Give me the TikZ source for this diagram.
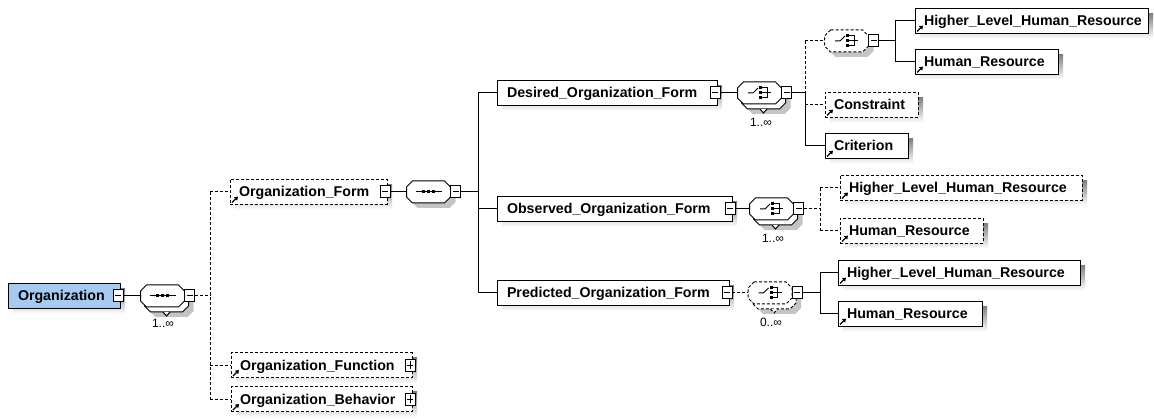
\documentclass[tikz,border=0pt]{standalone}
\usepackage{fontspec}
\newfontfamily\lsans{Liberation Sans}
\usetikzlibrary{arrows.meta}

\definecolor{rootfill}{RGB}{166,202,240}
\definecolor{shade}{RGB}{196,196,196}

\pgfdeclarelayer{paper}
\pgfdeclarelayer{shadowlayer}
\pgfsetlayers{paper,shadowlayer,main}

\tikzset{
  every node/.style={inner sep=0pt, outer sep=0pt},
  box/.style={draw, fill=white, line width=1pt, minimum height=25pt, text width=#1,
    align=left, anchor=west, text height=13pt, text depth=3pt,
    font=\lsans\bfseries\fontsize{14.2}{16}\selectfont},
  opt/.style={dash pattern=on 3pt off 2pt},
  comp/.style={minimum width=44pt, minimum height=22pt},
  btn/.style={draw, fill=white, line width=1pt, minimum width=10pt, minimum height=12pt,
    path picture={\draw[line width=1pt] ([xshift=2pt]path picture bounding box.west)
      -- ([xshift=-2pt]path picture bounding box.east);}},
  plusbtn/.style={btn, path picture={
      \draw[line width=1pt] ([xshift=2pt]path picture bounding box.west)
        -- ([xshift=-2pt]path picture bounding box.east);
      \draw[line width=1pt] ([yshift=2pt]path picture bounding box.south)
        -- ([yshift=-2pt]path picture bounding box.north);}},
  link/.style={line width=1pt},
  occ/.style={font=\lsans\fontsize{12}{14}\selectfont},
}

% small arrow marking a referenced element
\newcommand\refmark[1]{%
  \draw[line width=1.2pt, -{Triangle[length=3.5pt,width=4.5pt]}]
    ([shift={(2,-2)}]#1.south west) -- ++(6,-6);}

% octagon round a compositor node: name, dx, dy, path options
\newcommand\octo[4]{%
  \path[#4] ([shift={(#2+6,#3)}]#1.north west) -- ([shift={(#2-6,#3)}]#1.north east)
    -- ([shift={(#2,#3+6)}]#1.north east) -- ([shift={(#2,#3-6)}]#1.south east)
    -- ([shift={(#2-6,#3)}]#1.south east) -- ([shift={(#2+6,#3)}]#1.south west)
    -- ([shift={(#2,#3-6)}]#1.south west) -- ([shift={(#2,#3+6)}]#1.north west) -- cycle;}

% sequence compositor symbol
\newcommand\seqicon[1]{%
  \begin{scope}[shift={(#1.center)}]
    \draw[line width=1pt] (-13,0) -- (13,0);
    \fill (-6.5,-1.5) rectangle +(3,3);
    \fill (-1.5,-1.5) rectangle +(3,3);
    \fill (3.5,-1.5) rectangle +(3,3);
  \end{scope}}

% choice compositor symbol
\newcommand\choiceicon[1]{%
  \begin{scope}[shift={(#1.center)}, xshift=1.5pt]
    \draw[line width=1pt] (-13,0) -- (-8,0) -- (-3,-5);
    \fill (-2,-6.5) rectangle +(3,3);
    \fill (-2,-1.5) rectangle +(3,3);
    \fill (-2,3.5) rectangle +(3,3);
    \draw[line width=1pt] (1,-5) -- (6,-5) -- (6,5) -- (1,5);
    \draw[line width=1pt] (1,0) -- (10,0);
  \end{scope}}

% rear copy of a compositor that may repeat: name, position, extra options
\newcommand\stackback[3]{%
  \node[comp] (#1-bk) at ([shift={(4,5)}]#2) {};
  \octo{#1-bk}{5}{5}{fill=shade}
  \octo{#1-bk}{0}{0}{draw, line width=1pt, fill=white, #3}
  \draw[line width=1pt, fill=white, #3] ([xshift=-3.5pt]#1-bk.south)
    -- ([yshift=-4pt]#1-bk.south) -- ([xshift=3.5pt]#1-bk.south);}

\begin{document}
\begin{tikzpicture}[x=1pt,y=-1pt]
\begin{pgfonlayer}{paper}
\fill[white] (0,0) rectangle (1154,419);
\end{pgfonlayer}
\useasboundingbox (0,0) rectangle (1154,419);

% ---------- root element ----------
\node[box=112pt, fill=rootfill] (org) at (8,296) {\hspace*{10pt}Organization};
\node[btn] (org-b) at ([xshift=-2pt]org.east) {};

\coordinate (s1pos) at (162.5,296);
\stackback{s1}{s1pos}{}
\node[comp] (s1) at (s1pos) {};
\octo{s1}{0}{0}{draw, line width=1pt, fill=white}
\seqicon{s1}
\node[btn, anchor=west] (s1-b) at (s1.east) {};
\node[occ] (s1-o) at (163,323) {1..∞};

\coordinate (j1) at (210,296);

% ---------- first level children ----------
\node[box=157pt, opt] (of) at (230,192) {\hspace*{9pt}Organization\_Form};
\node[btn] (of-b) at ([xshift=-2pt]of.east) {};
\refmark{of}
\node[box=181pt, opt] (ofn) at (231,365.5) {\hspace*{9pt}Organization\_Function};
\node[plusbtn] (ofn-b) at ([xshift=-2pt]ofn.east) {};
\refmark{ofn}
\node[box=181pt, opt] (obh) at (231,399.5) {\hspace*{9pt}Organization\_Behavior};
\node[plusbtn] (obh-b) at ([xshift=-2pt]obh.east) {};
\refmark{obh}

\draw[link] (org-b.east) -- (s1.west);
\draw[link, opt] (s1-b.east) -- (j1);
\draw[link, opt] (of.west -| j1) -- (obh.west -| j1);
\draw[link, opt] (of.west -| j1) -- (of.west);
\draw[link, opt] (ofn.west -| j1) -- (ofn.west);
\draw[link, opt] (obh.west -| j1) -- (obh.west);

% ---------- Organization_Form content ----------
\node[comp] (s2) at (428.5,192) {};
\octo{s2}{5}{5}{fill=shade}
\octo{s2}{0}{0}{draw, line width=1pt, fill=white}
\seqicon{s2}
\node[btn, anchor=west] (s2-b) at (s2.east) {};
\coordinate (j2) at (478,192);
\draw[link] (of-b.east) -- (s2.west);
\draw[link] (s2-b.east) -- (j2);

\node[box=220pt] (des) at (497,93) {\hspace*{10pt}Desired\_Organization\_Form};
\node[btn] (des-b) at ([xshift=-2pt]des.east) {};
\node[box=235pt] (obs) at (497,209) {\hspace*{10pt}Observed\_Organization\_Form};
\node[btn] (obs-b) at ([xshift=-2pt]obs.east) {};
\node[box=232pt] (pre) at (497,293) {\hspace*{10pt}Predicted\_Organization\_Form};
\node[btn] (pre-b) at ([xshift=-2pt]pre.east) {};

\draw[link] (des.west -| j2) -- (pre.west -| j2);
\draw[link] (des.west -| j2) -- (des.west);
\draw[link] (obs.west -| j2) -- (obs.west);
\draw[link] (pre.west -| j2) -- (pre.west);

% ---------- Desired_Organization_Form content ----------
\coordinate (c1pos) at (759.5,93);
\stackback{c1}{c1pos}{}
\node[comp] (c1) at (c1pos) {};
\octo{c1}{0}{0}{draw, line width=1pt, fill=white}
\choiceicon{c1}
\node[btn, anchor=west] (c1-b) at (c1.east) {};
\node[occ] (c1-o) at (761,122) {1..∞};
\coordinate (j3) at (805,93);
\draw[link] (des-b.east) -- (c1.west);
\draw[link] (c1-b.east) -- (j3);

\node[comp] (c2) at (846.5,41) {};
\octo{c2}{5}{5}{fill=shade}
\octo{c2}{0}{0}{draw, line width=1pt, fill=white, opt}
\choiceicon{c2}
\node[btn, anchor=west] (c2-b) at (c2.east) {};
\coordinate (j4) at (895,41);

\node[box=93pt, opt] (con) at (825,105) {\hspace*{9pt}Constraint};
\refmark{con}
\node[box=83pt] (cri) at (825,146) {\hspace*{9pt}Criterion};
\refmark{cri}

\draw[link, opt] (c2.west -| j3) -- (j3);
\draw[link] (j3) -- (cri.west -| j3);
\draw[link, opt] (c2.west -| j3) -- (c2.west);
\draw[link, opt] (con.west -| j3) -- (con.west);
\draw[link] (cri.west -| j3) -- (cri.west);

\node[box=233pt] (hl1) at (915,21) {\hspace*{9pt}Higher\_Level\_Human\_Resource};
\refmark{hl1}
\node[box=143pt] (hr1) at (915,62) {\hspace*{9pt}Human\_Resource};
\refmark{hr1}
\draw[link] (c2-b.east) -- (j4);
\draw[link] (hl1.west -| j4) -- (hr1.west -| j4);
\draw[link] (hl1.west -| j4) -- (hl1.west);
\draw[link] (hr1.west -| j4) -- (hr1.west);

% ---------- Observed_Organization_Form content ----------
\coordinate (c3pos) at (771.5,209);
\stackback{c3}{c3pos}{}
\node[comp] (c3) at (c3pos) {};
\octo{c3}{0}{0}{draw, line width=1pt, fill=white}
\choiceicon{c3}
\node[btn, anchor=west] (c3-b) at (c3.east) {};
\node[occ] (c3-o) at (773,238) {1..∞};
\coordinate (j5) at (820,209);
\draw[link] (obs-b.east) -- (c3.west);
\draw[link, opt] (c3-b.east) -- (j5);

\node[box=242pt, opt] (hl2) at (840,188) {\hspace*{9pt}Higher\_Level\_Human\_Resource};
\refmark{hl2}
\node[box=143pt, opt] (hr2) at (840,231) {\hspace*{9pt}Human\_Resource};
\refmark{hr2}
\draw[link, opt] (hl2.west -| j5) -- (hr2.west -| j5);
\draw[link, opt] (hl2.west -| j5) -- (hl2.west);
\draw[link, opt] (hr2.west -| j5) -- (hr2.west);

% ---------- Predicted_Organization_Form content ----------
\coordinate (c4pos) at (770,293);
\stackback{c4}{c4pos}{opt}
\node[comp] (c4) at (c4pos) {};
\octo{c4}{0}{0}{draw, line width=1pt, fill=white, opt}
\choiceicon{c4}
\node[btn, anchor=west] (c4-b) at (c4.east) {};
\node[occ] (c4-o) at (771,322) {0..∞};
\coordinate (j6) at (820,293);
\draw[link, opt] (pre-b.east) -- (c4.west);
\draw[link] (c4-b.east) -- (j6);

\node[box=242pt] (hl3) at (838,273) {\hspace*{9pt}Higher\_Level\_Human\_Resource};
\refmark{hl3}
\node[box=144pt] (hr3) at (838,314) {\hspace*{9pt}Human\_Resource};
\refmark{hr3}
\draw[link] (hl3.west -| j6) -- (hr3.west -| j6);
\draw[link] (hl3.west -| j6) -- (hl3.west);
\draw[link] (hr3.west -| j6) -- (hr3.west);

% ---------- shadows under the element boxes ----------
\begin{pgfonlayer}{shadowlayer}
\foreach \n in {org,of,ofn,obh,des,obs,pre,con,cri,hl1,hr1,hl2,hr2,hl3,hr3}
  \fill[shade] ([shift={(5,5)}]\n.south west) rectangle ([shift={(5,5)}]\n.north east);
\end{pgfonlayer}

\end{tikzpicture}
\end{document}
